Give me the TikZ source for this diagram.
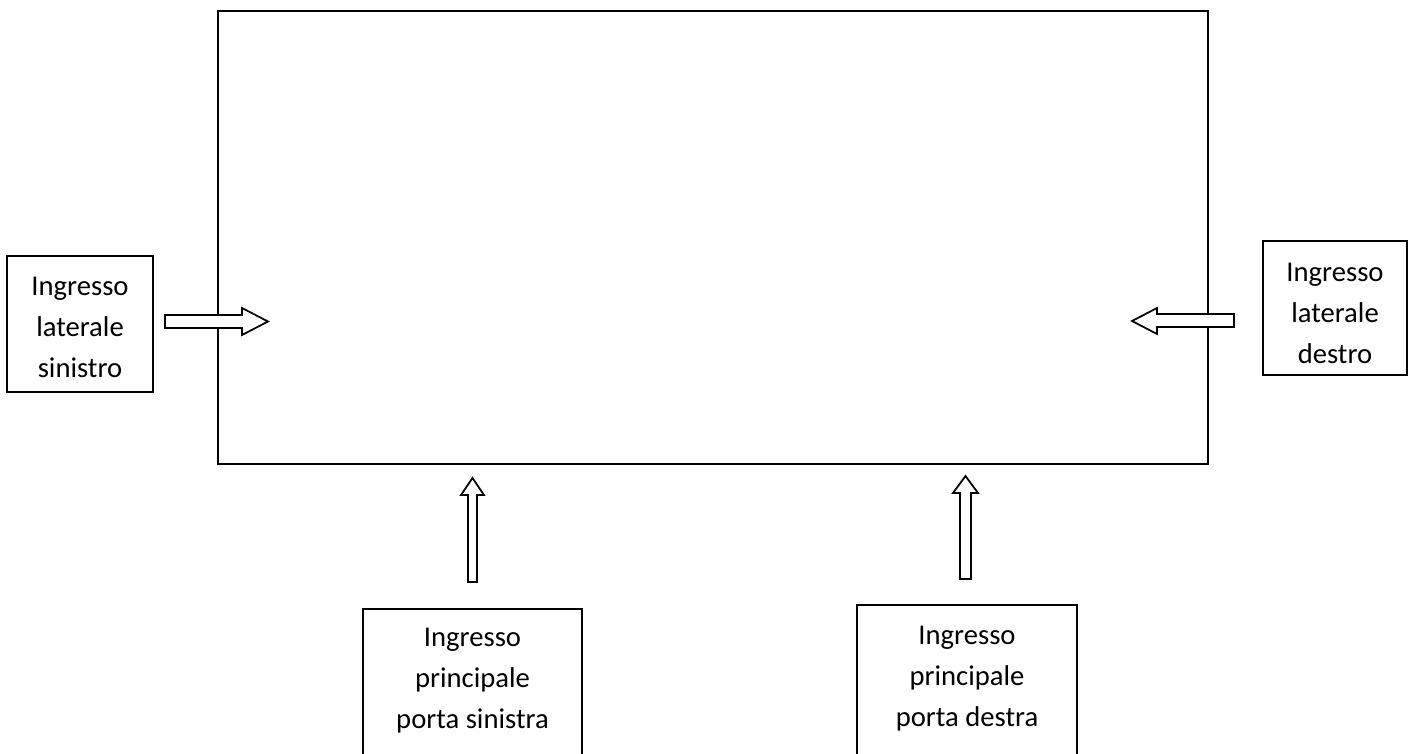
\documentclass[tikz,border=0pt]{standalone}
\usepackage{fontspec}
\setmainfont{Carlito}
\begin{document}
\begin{tikzpicture}[x=0.02cm,y=-0.02cm,
  box/.style={draw,line width=1pt,inner sep=0pt},
  lbl/.style={align=center,font=\fontsize{16.3}{23.2}\selectfont,inner sep=0pt,anchor=base},
  blockarrow/.style={draw,line width=1pt,fill=white,line join=miter}]
\useasboundingbox (0,0) rectangle (1414,754);
% main hall
\node[box,minimum width=19.8cm,minimum height=9.06cm] (hall) at (713,237.5) {};
% entrance boxes
\node[box,minimum width=2.92cm,minimum height=2.72cm] (lbox) at (80,324) {};
\node[box,minimum width=2.88cm,minimum height=2.68cm] (rbox) at (1335,308) {};
\node[box,minimum width=4.38cm,minimum height=3.82cm] (blbox) at (472.5,704.5) {};
\node[box,minimum width=4.40cm,minimum height=3.90cm] (brbox) at (967,702.5) {};
% labels (base anchor = baseline of last line)
\node[lbl] (ltxt) at (80,377) {Ingresso\\laterale\\sinistro};
\node[lbl] (rtxt) at (1335,363) {Ingresso\\laterale\\destro};
\node[lbl] (bltxt) at (472.5,728) {Ingresso\\principale\\porta sinistra};
\node[lbl] (brtxt) at (967,726) {Ingresso\\principale\\porta destra};
% block arrows
\draw[blockarrow] (165,315) -- (242,315) -- (242,308) -- (268,321.5) -- (242,335) -- (242,328) -- (165,328) -- cycle;
\draw[blockarrow] (1234,314) -- (1157,314) -- (1157,308) -- (1132,321) -- (1157,334) -- (1157,327) -- (1234,327) -- cycle;
\draw[blockarrow] (468,582) -- (468,495) -- (461,495) -- (472.5,478) -- (484,495) -- (477,495) -- (477,582) -- cycle;
\draw[blockarrow] (960,579) -- (960,493) -- (953,493) -- (965.5,476) -- (978,493) -- (971,493) -- (971,579) -- cycle;
\end{tikzpicture}
\end{document}
